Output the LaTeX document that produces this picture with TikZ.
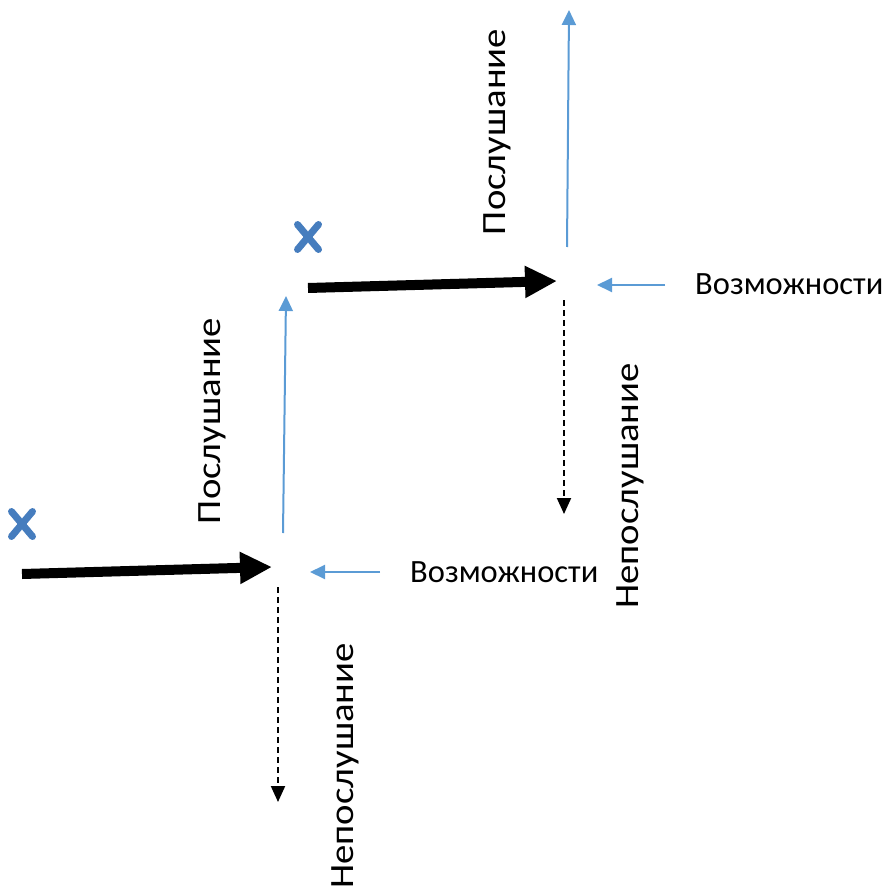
\documentclass[tikz,border=0pt]{standalone}
\usepackage{fontspec}
\setmainfont{Carlito}
\usetikzlibrary{arrows.meta,positioning,shapes.misc}
\definecolor{optblue}{RGB}{91,155,213}
\definecolor{crossblue}{RGB}{70,125,190}
\tikzset{
  mainarr/.style={line width=10pt, -{Triangle[length=32pt,width=30pt]}},
  obeyarr/.style={optblue, line width=2pt, -{Triangle[length=15pt,width=14pt]}},
  chancearr/.style={optblue, line width=2pt, -{Triangle[length=15pt,width=14pt]}},
  disobeyarr/.style={line width=2pt, dash pattern=on 6pt off 4pt, -{Triangle[length=16pt,width=14pt]}},
  crossmk/.style={cross out, draw=crossblue, line width=7pt, line cap=round, minimum width=14pt, minimum height=18pt, inner sep=0pt},
  lbl/.style={inner sep=0pt, font=\fontsize{32.5}{38}\selectfont},
  vlbl/.style={inner sep=0pt, font=\fontsize{34}{40}\selectfont, anchor=base, rotate=90, xscale=1.14}
}

\begin{document}
\begin{tikzpicture}[x=1pt, y=-1pt]
  \useasboundingbox (0,0) rectangle (885,890);
  % lower step
  \node[crossmk] (x1) at (22,524) {};
  \coordinate (in1) at (22,574);
  \coordinate (j1) at (272,567);
  \draw[mainarr] (in1) -- (j1);
  \coordinate (ob1s) at (283,533);
  \coordinate (ob1e) at (286,296);
  \draw[obeyarr] (ob1s) -- (ob1e);
  \coordinate (dis1s) at (278,587);
  \coordinate (dis1e) at (278,802);
  \draw[disobeyarr] (dis1s) -- (dis1e);
  \coordinate (ch1s) at (380,572);
  \coordinate (ch1e) at (310,572);
  \draw[chancearr] (ch1s) -- (ch1e);
  \node[lbl, anchor=base west] (chance1) at (410,582) {Возможности};
  \node[vlbl] (obey1) at (220,421) {Послушание};
  \node[vlbl] (disobey1) at (353,766) {Непослушание};
  % upper step
  \node[crossmk] (x2) at (308,237) {};
  \coordinate (in2) at (308,288);
  \coordinate (j2) at (557,281);
  \draw[mainarr] (in2) -- (j2);
  \coordinate (ob2s) at (567,247);
  \coordinate (ob2e) at (569,10);
  \draw[obeyarr] (ob2s) -- (ob2e);
  \coordinate (dis2s) at (564,300);
  \coordinate (dis2e) at (564,514);
  \draw[disobeyarr] (dis2s) -- (dis2e);
  \coordinate (ch2s) at (665,285);
  \coordinate (ch2e) at (597,285);
  \draw[chancearr] (ch2s) -- (ch2e);
  \node[lbl, anchor=base west] (chance2) at (695,294) {Возможности};
  \node[vlbl] (obey2) at (505,132) {Послушание};
  \node[vlbl] (disobey2) at (638,486) {Непослушание};
\end{tikzpicture}
\end{document}
